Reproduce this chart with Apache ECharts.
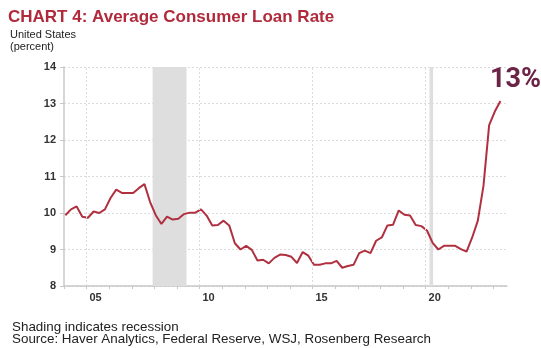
<!DOCTYPE html>
<html>
<head>
<meta charset="utf-8">
<script src="https://cdn.jsdelivr.net/npm/echarts@6/dist/echarts.min.js"></script>
<style>
  html, body { margin: 0; padding: 0; background: #fff; }
  #chart { width: 541px; height: 348px; }
</style>
</head>
<body>
<div id="chart"></div>
<script>
// quarterly average consumer loan rate, 2004Q1 .. 2023Q2 (percent)
const firstYear = 2004;
const rate = [
  9.94, 10.10, 10.18, 9.90,   // 2004
  9.87, 10.04, 10.00, 10.10,  // 2005
  10.41, 10.64, 10.55, 10.55, // 2006
  10.55, 10.68, 10.79, 10.30, // 2007
  9.94, 9.70, 9.90, 9.82,     // 2008
  9.84, 9.97, 10.01, 10.01,   // 2009
  10.10, 9.93, 9.66, 9.67,    // 2010
  9.79, 9.66, 9.17, 9.00,     // 2011
  9.10, 8.99, 8.70, 8.72,     // 2012
  8.62, 8.77, 8.86, 8.85,     // 2013
  8.80, 8.63, 8.93, 8.83,     // 2014
  8.58, 8.58, 8.62, 8.62,     // 2015
  8.69, 8.50, 8.55, 8.58,     // 2016
  8.90, 8.97, 8.90, 9.24,     // 2017
  9.33, 9.66, 9.68, 10.07,    // 2018
  9.95, 9.93, 9.67, 9.64,     // 2019
  9.52, 9.18, 9.00, 9.10,     // 2020
  9.10, 9.10, 9.01, 8.94,     // 2021
  9.33, 9.79, 10.75, 12.41,   // 2022
  12.78, 13.07                // 2023
];
// recessions (decimal years)
const recessions = [[2007.92, 2009.42], [2020.17, 2020.33]];
const yTicks = [8, 9, 10, 11, 12, 13, 14];
const gridYears = [2005, 2010, 2015, 2020];

const points = rate.map((v, i) => [firstYear + i / 4 + 0.06, v]);

const chart = echarts.init(document.getElementById('chart'));
chart.setOption({
  animation: false,
  textStyle: { fontFamily: 'Liberation Sans, Arial, sans-serif' },
  title: [
    { text: 'CHART 4: Average Consumer Loan Rate', left: 3, top: 4,
      textStyle: { color: '#b02a3c', fontSize: 17, fontWeight: 'bold' } },
    { text: 'United States\n(percent)', left: 5, top: 24,
      textStyle: { color: '#222', fontSize: 11, fontWeight: 'normal', lineHeight: 12 } },
    { text: 'Shading indicates recession\nSource: Haver Analytics, Federal Reserve, WSJ, Rosenberg Research',
      left: 7, top: 316,
      textStyle: { color: '#222', fontSize: 13.4, fontWeight: 'normal', lineHeight: 12 } },
    { text: '13%', left: 485, top: 62,
      textStyle: { color: '#6b2346', fontSize: 27, fontWeight: 'bold', fontFamily: 'Roboto' } }
  ],
  grid: { left: 64, right: 34, top: 67, bottom: 62 },
  xAxis: {
    type: 'value',
    min: 2004, max: 2023.6, interval: 1,
    axisLine: { lineStyle: { color: '#c8c8c8', width: 1.5 } },
    axisTick: { length: 3, lineStyle: { color: '#c8c8c8' } },
    splitLine: { show: false },
    axisLabel: {
      showMaxLabel: false,
      color: '#333', fontWeight: 'bold', fontSize: 11, margin: 6,
      padding: [0, 0, 0, 18],
      formatter: v => (v % 5 === 0 ? String(v).slice(2) : '')
    }
  },
  yAxis: {
    type: 'value',
    min: yTicks[0], max: yTicks[yTicks.length - 1], interval: 1,
    axisLine: { show: true, lineStyle: { color: '#c8c8c8', width: 1.5 } },
    axisTick: { show: true, length: 4, lineStyle: { color: '#c8c8c8' } },
    splitLine: { lineStyle: { color: '#dcdcdc', type: [2, 2] } },
    axisLabel: { color: '#333', fontWeight: 'bold', fontSize: 11, margin: 8 }
  },
  series: [{
    type: 'line',
    data: points,
    showSymbol: false,
    lineStyle: { color: '#b03040', width: 2 },
    markLine: {
      silent: true, symbol: 'none', label: { show: false },
      lineStyle: { color: '#dcdcdc', type: [2, 2], width: 1 },
      data: gridYears.map(y => ({ xAxis: y }))
    },
    markArea: {
      silent: true,
      itemStyle: { color: '#dedede' },
      data: recessions.map(r => [{ xAxis: r[0] }, { xAxis: r[1] }])
    },
    z: 3
  }]
});
</script>
</body>
</html>
